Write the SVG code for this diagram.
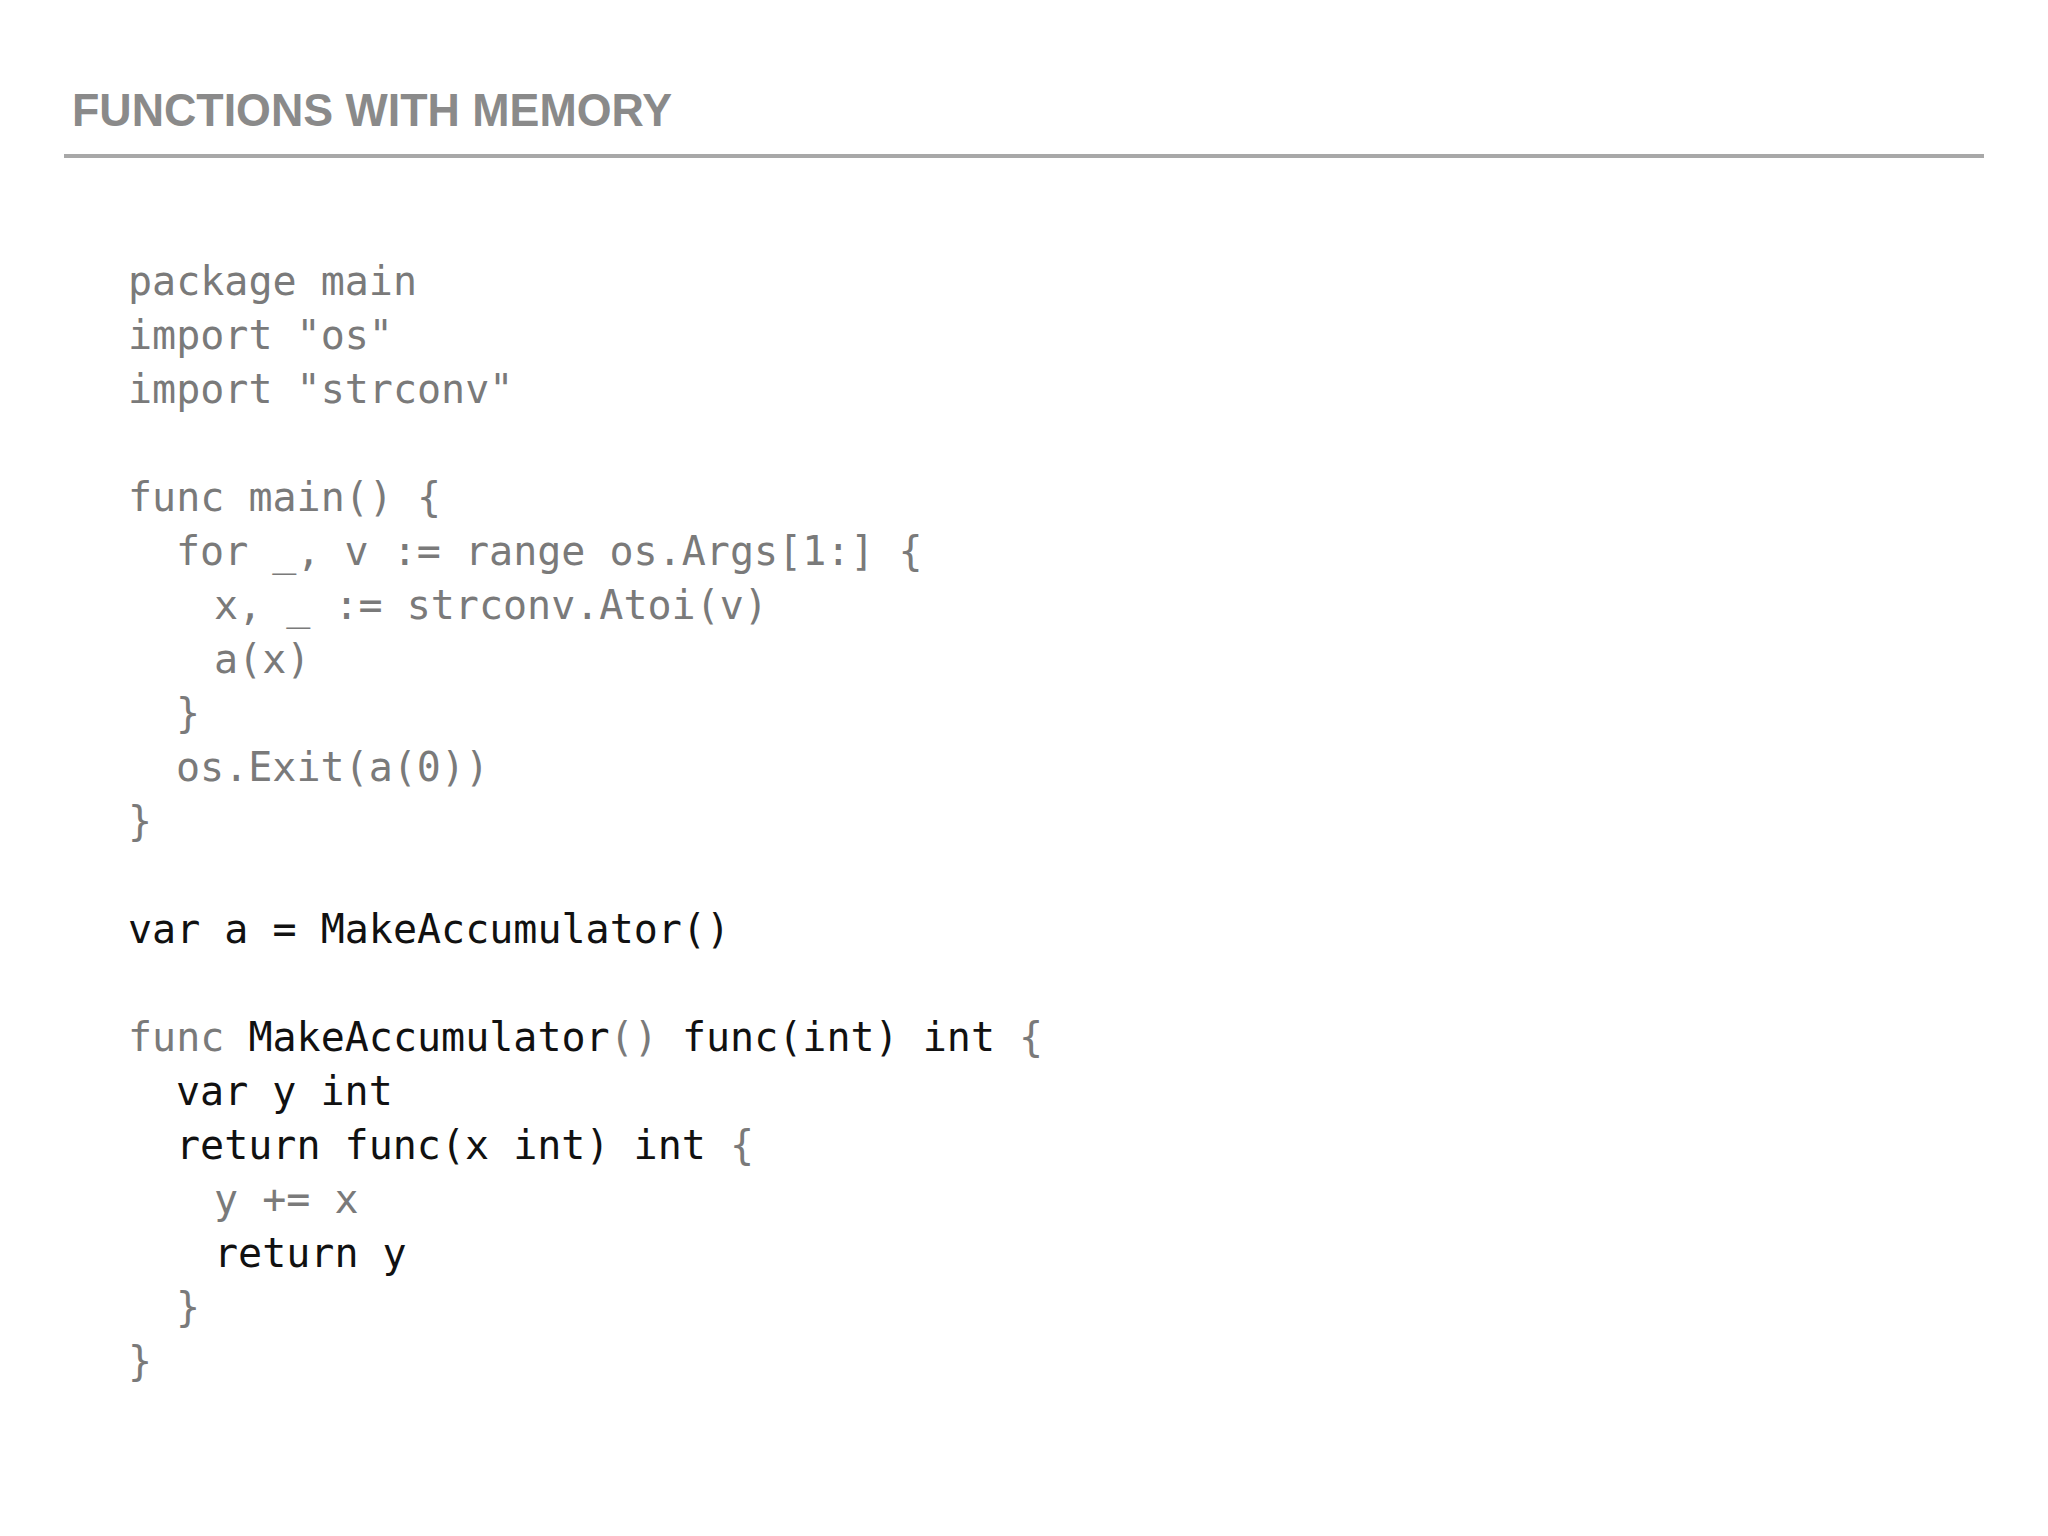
<svg xmlns="http://www.w3.org/2000/svg" width="2048" height="1536" viewBox="0 0 2048 1536">
<style>
.t{font-family:"Liberation Sans",Arial,sans-serif;font-size:46px;fill:#8a8a8a;font-weight:bold}
.c{font-family:"DejaVu Sans Mono","Liberation Mono",monospace;font-size:40px;fill:#7a7a7a}
.k{fill:#111}
</style>
<rect width="2048" height="1536" fill="#fff"/>
<g id="title"><text class="t" x="72" y="126" textLength="600" lengthAdjust="spacingAndGlyphs">FUNCTIONS WITH MEMORY</text>
<line x1="64" y1="156" x2="1984" y2="156" stroke="#a8a8a8" stroke-width="4"/></g>
<g id="code" class="c" xml:space="preserve">
<text x="128" y="295">package main</text>
<text x="128" y="349">import "os"</text>
<text x="128" y="403">import "strconv"</text>
<text x="128" y="511">func main() {</text>
<text x="176" y="565">for _, v := range os.Args[1:] {</text>
<text x="214" y="619">x, _ := strconv.Atoi(v)</text>
<text x="214" y="673">a(x)</text>
<text x="176" y="727">}</text>
<text x="176" y="781">os.Exit(a(0))</text>
<text x="128" y="835">}</text>
<text x="128" y="943" class="k">var a = MakeAccumulator()</text>
<text x="128" y="1051">func <tspan class="k">MakeAccumulator</tspan>() <tspan class="k">func(int) int</tspan> {</text>
<text x="176" y="1105" class="k">var y int</text>
<text x="176" y="1159"><tspan class="k">return func(x int) int</tspan> {</text>
<text x="214" y="1213">y += x</text>
<text x="214" y="1267" class="k">return y</text>
<text x="176" y="1321">}</text>
<text x="128" y="1375">}</text>
</g>
</svg>
